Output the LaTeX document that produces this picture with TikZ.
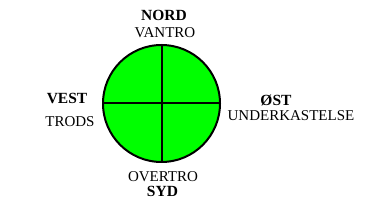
\documentclass[tikz,border=0pt]{standalone}
\usepackage{fontspec}
\setmainfont{Liberation Serif}
\begin{document}
\begin{tikzpicture}[x=1pt,y=-1pt,
  lbl/.style={inner sep=0pt,font=\fontsize{15}{15}\selectfont},
  blbl/.style={inner sep=0pt,font=\fontsize{15.5}{15.5}\selectfont\bfseries},
  disc/.style={circle,draw=black,line width=2pt,fill={rgb,255:red,0;green,255;blue,0},minimum size=117pt,inner sep=0pt},
  cross/.style={line width=2pt,draw=black}]
\useasboundingbox (0,0) rectangle (370,208);
\fill[white] (0,0) rectangle (370,208);
\node[disc] (c) at (161.5,103.5) {};
\draw[cross] (c.north) -- (c.south);
\draw[cross] (c.west) -- (c.east);
\node[blbl] (nord) at (164,15) {NORD};
\node[lbl] (vantro) at (165,33) {VANTRO};
\node[blbl] (vest) at (67,98) {VEST};
\node[lbl] (trods) at (70,122) {TRODS};
\node[blbl] (ost) at (276,100) {ØST};
\node[lbl] (under) at (291,115.5) {UNDERKASTELSE};
\node[lbl] (overtro) at (163,176.5) {OVERTRO};
\node[blbl] (syd) at (162.5,191.5) {SYD};
\end{tikzpicture}
\end{document}
